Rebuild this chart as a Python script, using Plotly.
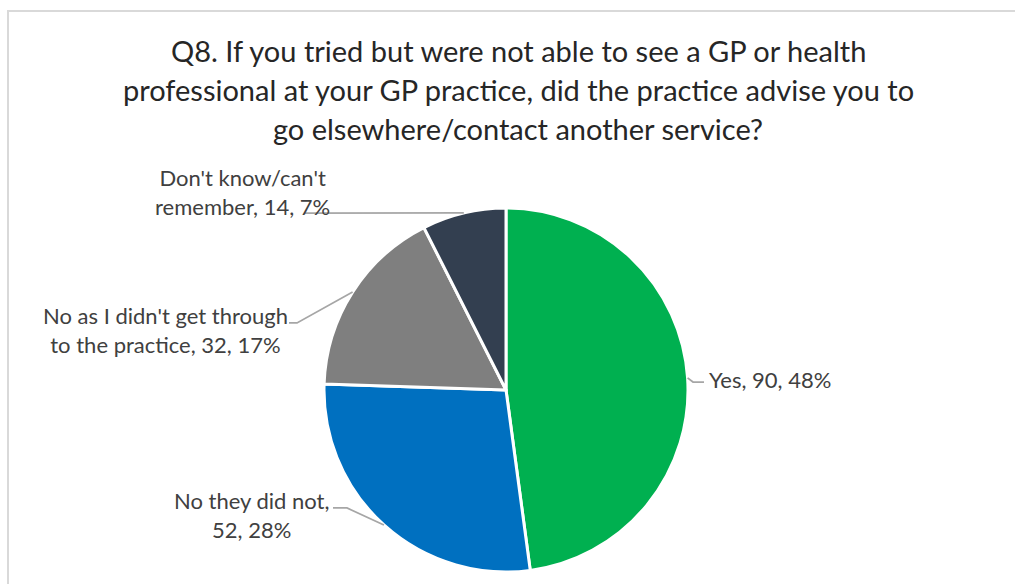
import math
import plotly.graph_objects as go

# Survey responses
categories = [
    "Yes",
    "No they did not",
    "No as I didn't get through to the practice",
    "Don't know/can't remember",
]
counts = [90, 52, 32, 14]
colors = ["#00B050", "#0070C0", "#7F7F7F", "#333F50"]

# Label text split into display lines
label_lines = [
    ["Yes, {n}, {p}"],
    ["No they did not,", "{n}, {p}"],
    ["No as I didn't get through", "to the practice, {n}, {p}"],
    ["Don't know/can't", "remember, {n}, {p}"],
]

title_lines = [
    "Q8. If you tried but were not able to see a GP or health",
    "professional at your GP practice, did the practice advise you to",
    "go elsewhere/contact another service?",
]

W, H = 1015, 584
FONT = "Lato, 'Open Sans', sans-serif"

# Pie geometry in pixels
CX, CY, R = 506, 390, 182


def px(x):
    return x / W


def py(y):
    return 1 - y / H


total = sum(counts)
pcts = [round(100 * c / total) for c in counts]

fig = go.Figure(
    go.Pie(
        labels=categories,
        values=counts,
        sort=False,
        direction="clockwise",
        rotation=0,
        marker=dict(colors=colors, line=dict(color="white", width=3)),
        textinfo="none",
        hoverinfo="label+value+percent",
        showlegend=False,
        domain=dict(x=[px(CX - R), px(CX + R)], y=[py(CY + R), py(CY - R)]),
    )
)

# Mid-angle edge point of each slice (clockwise from 12 o'clock)
edges = []
cum = 0
for c in counts:
    mid = (cum + c / 2) / total * 2 * math.pi
    edges.append((CX + R * math.sin(mid), CY - R * math.cos(mid)))
    cum += c

# Leader-line bends and label anchors: (bend points, label x, label y, xanchor)
label_layout = [
    ([(693, 382), (704, 382)], 707, 379, "left"),
    ([(347, 508), (333, 508)], 331, 515, "right"),
    ([(297, 323), (289, 323)], 290, 330, "right"),
    ([(305, 213)], 332, 192, "right"),
]

shapes = [
    dict(type="rect", xref="paper", yref="paper",
         x0=px(8), x1=1.02, y0=-0.02, y1=py(11),
         line=dict(color="#D9D9D9", width=2), fillcolor="rgba(0,0,0,0)", layer="below"),
]
annotations = []
for i, (bends, lx, ly, anchor) in enumerate(label_layout):
    pts = [edges[i]] + bends
    path = "M " + " L ".join(f"{px(x):.5f},{py(y):.5f}" for x, y in pts)
    shapes.append(dict(type="path", xref="paper", yref="paper", path=path,
                       line=dict(color="#A6A6A6", width=1.75)))
    text = "<br>".join(s.format(n=counts[i], p=f"{pcts[i]}%") for s in label_lines[i])
    annotations.append(dict(
        x=px(lx), y=py(ly), xref="paper", yref="paper", text=text,
        showarrow=False, xanchor=anchor, yanchor="middle", align="center",
        font=dict(family=FONT, size=22, color="#404040"),
    ))

for j, line in enumerate(title_lines):
    annotations.append(dict(
        x=px(518), y=py(50 + 39 * j), xref="paper", yref="paper", text=line,
        showarrow=False, xanchor="center", yanchor="middle",
        font=dict(family=FONT, size=29, color="#262626"),
    ))

fig.update_layout(
    width=W, height=H,
    margin=dict(l=0, r=0, t=0, b=0),
    paper_bgcolor="white",
    plot_bgcolor="white",
    shapes=shapes,
    annotations=annotations,
)

fig.write_html("out.html")
